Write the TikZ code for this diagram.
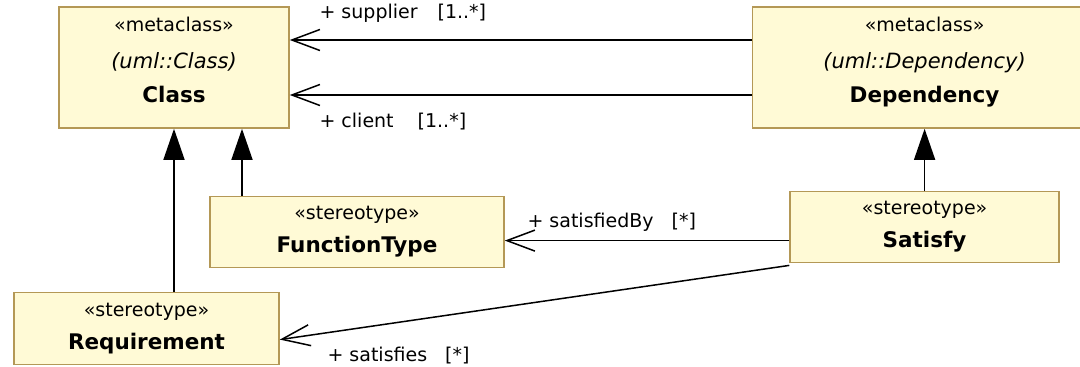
\documentclass[tikz,border=0pt]{standalone}
\usepackage{fontspec}
\setmainfont{DejaVu Sans}
\usetikzlibrary{arrows.meta,positioning}
\definecolor{umlfill}{RGB}{255,250,214}
\definecolor{umlborder}{RGB}{180,152,86}
\newcommand\umlname[1]{{\fontsize{21.5}{26}\selectfont\bfseries #1}}
\newcommand\umlbase[1]{{\fontsize{21}{26}\selectfont\itshape #1}}

\begin{document}
\begin{tikzpicture}[
    x=1pt, y=1pt,
    every node/.style={align=center},
    metabox/.style={rectangle, draw=umlborder, fill=umlfill, line width=1.6pt, inner sep=0pt, minimum height=121pt, font=\fontsize{19}{34}\selectfont},
    stereobox/.style={rectangle, draw=umlborder, fill=umlfill, line width=1.6pt, inner sep=0pt, minimum height=71pt, font=\fontsize{19}{33}\selectfont},
    gen/.style={line width=1.5pt, -{Triangle[length=31pt,width=21pt]}},
    assoc/.style={line width=1.5pt, -{Straight Barb[length=28pt,width=21pt]}},
    role/.style={font=\fontsize{19}{22}\selectfont, inner sep=0pt}
]
\useasboundingbox (0,0) rectangle (1080,-367);

% Metaclasses
\node[metabox, minimum width=230pt] (class) at (174,-67.5) {«metaclass»\\[3pt]\umlbase{(uml::Class)}\\\umlname{Class}\rule[-16pt]{0pt}{16pt}};

\node[metabox, minimum width=344pt, right=462pt of class] (dependency) {«metaclass»\\[3pt]\umlbase{(uml::Dependency)}\\\umlname{Dependency}\rule[-16pt]{0pt}{16pt}};

% Stereotypes
\node[stereobox, minimum width=269pt, below=62pt of dependency] (satisfy) {«stereotype»\\\umlname{Satisfy}};

\node[stereobox, minimum width=294pt, below=67pt of class, xshift=183pt] (functiontype) {«stereotype»\\\umlname{FunctionType}};

\node[stereobox, minimum width=265pt, minimum height=72pt, below=163pt of class, xshift=-27.5pt] (requirement) {«stereotype»\\\umlname{Requirement}};

% Generalizations
\coordinate (ftup) at ([xshift=-115pt]functiontype.north);
\draw[gen] (class.south |- requirement.north) -- (class.south);
\draw[gen] (ftup) -- (ftup |- class.south);
\draw[gen] (satisfy.north) -- (satisfy.north |- dependency.south);

% Associations
\draw[assoc] ([yshift=27.5pt]dependency.west) -- ([yshift=27.5pt]class.east)
    node[role, at end, anchor=base west, xshift=29pt, yshift=22pt] (supplier) {+ supplier\hspace{20pt}[1..*]};
\draw[assoc] ([yshift=-27.5pt]dependency.west) -- ([yshift=-27.5pt]class.east)
    node[role, at end, anchor=base west, xshift=29pt, yshift=-32pt] (client) {+ client\hspace{24pt}[1..*]};

\coordinate (sbstart) at ([yshift=-13.5pt]satisfy.west);
\draw[assoc] (sbstart) -- (sbstart -| functiontype.east)
    node[role, at end, anchor=base west, xshift=22pt, yshift=13pt] (satisfiedby) {+ satisfiedBy\hspace{18pt}[*]};
\draw[assoc] ([yshift=-2pt]satisfy.south west) -- ([yshift=-11pt]requirement.east)
    node[role, at end, anchor=base west, xshift=47pt, yshift=-22pt] (satisfies) {+ satisfies\hspace{18pt}[*]};

\end{tikzpicture}
\end{document}
